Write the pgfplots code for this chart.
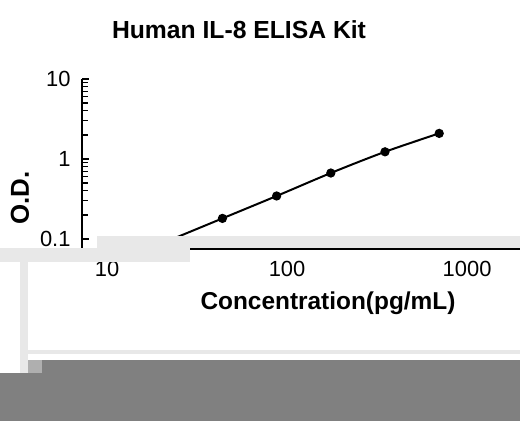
\documentclass[border=0pt]{standalone}
\usepackage{fontspec}
\setmainfont{Liberation Sans}
\usepackage{pgfplots}
\pgfplotsset{compat=1.18}
\definecolor{framegray}{RGB}{128,128,128}
\definecolor{pale}{RGB}{232,232,232}
\definecolor{midgray}{RGB}{175,175,175}

% standard curve: concentration (pg/mL) vs O.D.
\pgfplotstableread{
conc    od
21.875  0.095
43.75   0.181
87.5    0.345
175     0.668
350     1.23
700     2.09
}\curve

\begin{document}
\begin{tikzpicture}[x=1bp,y=1bp]
  \path[use as bounding box,fill=white] (0,0) rectangle (520,421);
  % screenshot frame
  \fill[framegray] (28,0) rectangle (520,61);
  \fill[framegray] (0,0) rectangle (28,48);
  \fill[pale] (20,48) rectangle (28,159);
  \fill[pale] (28,67) rectangle (520,71);
  \fill[midgray] (28,48) rectangle (42,61);
  \begin{axis}[
    at={(82bp,172bp)},anchor=south west,scale only axis,
    width=438bp,height=170bp,
    xmode=log,ymode=log,
    xmin=7.26,xmax=1968,ymin=0.075,ymax=10,
    axis x line*=bottom,axis y line*=left,
    axis line style={line width=1.8pt},
    xtick={10,100,1000},xticklabels={10,100,1000},
    ytick={0.1,1,10},yticklabels={0.1,1,10},
    minor xtick={},
    x tick style={draw=none},
    y tick style={line width=1.2pt,black},
    tick align=inside,
    major tick length=7bp,minor tick length=6bp,
    every tick label/.append style={font=\fontsize{22}{22}\selectfont},
    /pgf/number format/assume math mode=true,
    xticklabel shift=9bp,yticklabel shift=8bp,
    clip=false,
    title={Human IL-8 ELISA Kit},
    title style={at={(rel axis cs:0.3584,1.2529)},anchor=center,
      font=\fontsize{24.8}{24.8}\selectfont\bfseries},
    xlabel={Concentration(pg/mL)},
    xlabel style={at={(rel axis cs:0.5616,-0.3176)},anchor=center,
      font=\fontsize{24.5}{24.5}\selectfont\bfseries},
    ylabel={O.D.},
    ylabel style={at={(rel axis cs:-0.1416,0.3)},anchor=center,rotate=0,
      font=\fontsize{26}{26}\selectfont\bfseries},
  ]
    \addplot[black,line width=2pt,smooth,mark=*,mark size=3.6pt]
      table[x=conc,y=od] {\curve};
  \end{axis}
  % capture artefact bands over the lower edge
  \fill[pale] (97,173) rectangle (520,185);
  \fill[pale] (0,159) rectangle (190,173);
  \draw[black,line width=1.8pt] (193,172) -- (520,172);
\end{tikzpicture}
\end{document}
